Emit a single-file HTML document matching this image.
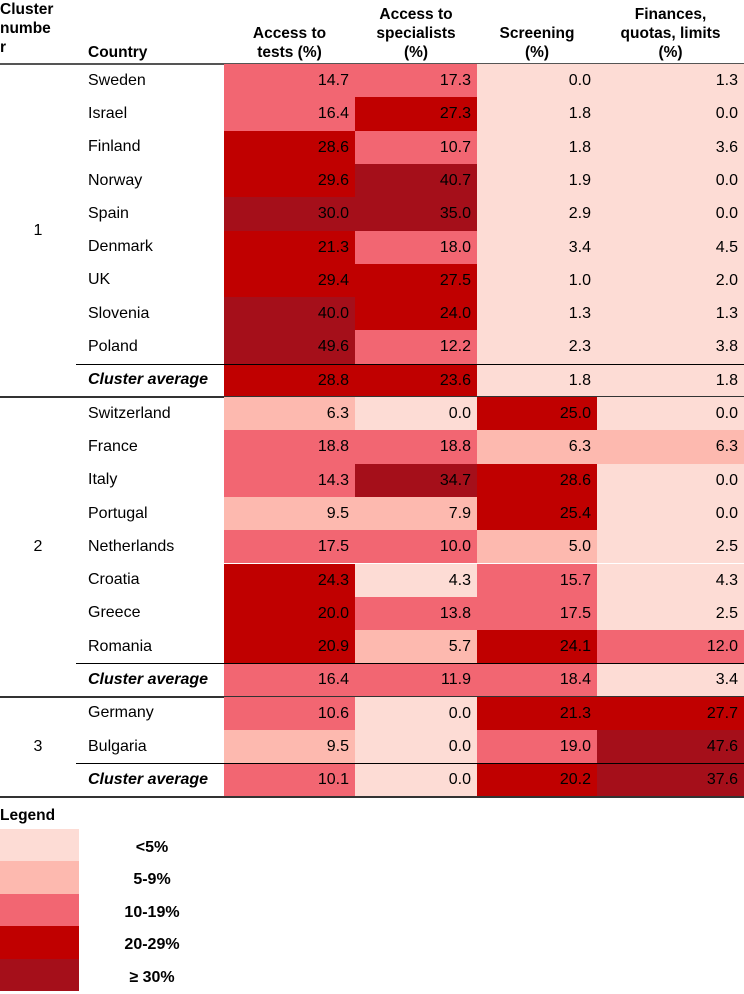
<!DOCTYPE html>
<html><head><meta charset="utf-8"><style>
body{margin:0;width:744px;height:991px;background:#fff;font-family:"Liberation Sans",sans-serif;position:relative;overflow:hidden;color:#000}
.a{position:absolute;box-sizing:border-box}
.h{font-weight:bold;font-size:15.5px;line-height:19px;text-align:center}
.c{font-size:16px;display:flex;align-items:center}
.v{justify-content:flex-end;padding-right:6px}
.ln{background:#000;height:1px}
</style></head><body>
<div id="root"></div>
<script>
const countries=["Sweden","Israel","Finland","Norway","Spain","Denmark","UK","Slovenia","Poland","Cluster average","Switzerland","France","Italy","Portugal","Netherlands","Croatia","Greece","Romania","Cluster average","Germany","Bulgaria","Cluster average"];
const clusters=[1,1,1,1,1,1,1,1,1,1,2,2,2,2,2,2,2,2,2,3,3,3];
const tests=[14.7,16.4,28.6,29.6,30.0,21.3,29.4,40.0,49.6,28.8,6.3,18.8,14.3,9.5,17.5,24.3,20.0,20.9,16.4,10.6,9.5,10.1];
const specialists=[17.3,27.3,10.7,40.7,35.0,18.0,27.5,24.0,12.2,23.6,0.0,18.8,34.7,7.9,10.0,4.3,13.8,5.7,11.9,0.0,0.0,0.0];
const screening=[0.0,1.8,1.8,1.9,2.9,3.4,1.0,1.3,2.3,1.8,25.0,6.3,28.6,25.4,5.0,15.7,17.5,24.1,18.4,21.3,19.0,20.2];
const finances=[1.3,0.0,3.6,0.0,0.0,4.5,2.0,1.3,3.8,1.8,0.0,6.3,0.0,0.0,2.5,4.3,2.5,12.0,3.4,27.7,47.6,37.6];
const legendLabels=["<5%","5-9%","10-19%","20-29%","≥ 30%"];
const palette=["#FDDCD5","#FDB9AF","#F26672","#C00000","#A50F1A"];
function cls(v){return v<5?0:v<10?1:v<20?2:v<30?3:4;}
const root=document.getElementById('root');
function mk(cl,x,y,w,h,txt,bg){const d=document.createElement('div');d.className='a '+cl;d.style.left=x+'px';d.style.top=y+'px';d.style.width=w+'px';d.style.height=h+'px';if(bg)d.style.background=bg;if(txt!==undefined)d.textContent=txt;root.appendChild(d);return d;}
let e;
e=mk('h',0,0,70,64);e.style.textAlign='left';e.innerHTML='Cluster<br>numbe<br>r';

e=mk('h',88,43,130,20,'Country');e.style.textAlign='left';

const colX=[224,355,477,597,744];
const heads=[["Access to","tests (%)"],["Access to","specialists","(%)"],["Screening","(%)"],["Finances,","quotas, limits","(%)"]];
const headNames=['tests-header','specialists-header','screening-header','finances-header'];
heads.forEach((hh,i)=>{const top=64-hh.length*19-2;e=mk('h',colX[i],top,colX[i+1]-colX[i],hh.length*19,'');e.innerHTML=hh.join('<br>');
});
e=mk('ln',0,63,744,2);e.style.background='#555';

const y0=64,rh=33.3;
const series=[tests,specialists,screening,finances];
const sNames=['tests','specialists','screening','finances'];
countries.forEach((c,r)=>{
  const y=y0+r*rh;
  const avg=c==="Cluster average";
  e=mk('c',88,y,136,rh,c);
  if(avg){e.style.fontWeight='bold';e.style.fontStyle='italic';}
  
  
  series.forEach((s,i)=>{
    const cell=mk('c v',colX[i],Math.round(y),colX[i+1]-colX[i],Math.round(y+rh)-Math.round(y),s[r].toFixed(1),palette[cls(s[r])]);
    
    
  });
  if(avg){
    e=mk('ln',76,Math.round(y),668,1);
    
    e=mk('ln',0,Math.round(y+rh)-1,744,2);e.style.background='#333';
    
  }
});
[1,2,3].forEach(k=>{
  const rows=clusters.map((v,i)=>v===k?i:-1).filter(i=>i>=0);
  const mid=y0+(rows[0]+rows[rows.length-1]+1)/2*rh;
  e=mk('c',0,mid-12,76,24,String(k));e.style.justifyContent='center';
  
});
e=mk('h',0,806,80,22,'Legend');e.style.textAlign='left';

legendLabels.forEach((l,i)=>{
  const y=829+i*32.4;
  e=mk('',0,Math.round(y),79,Math.round(y+32.4)-Math.round(y),undefined,palette[i]);
  
  e=mk('c',100,Math.round(y)+3,104,32,l);e.style.justifyContent='center';e.style.fontWeight='bold';
  
});
</script>
</body></html>
